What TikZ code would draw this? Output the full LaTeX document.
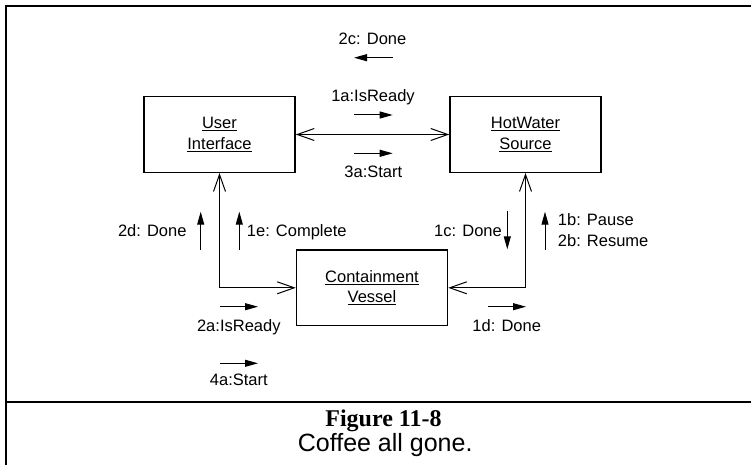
\documentclass[tikz,border=0pt]{standalone}
\usepackage{fontspec}
\setmainfont{Liberation Sans}
\newfontfamily\captionserif{Liberation Serif}
\usepackage{tikz}
\usetikzlibrary{arrows.meta, positioning}

\begin{document}
\begin{tikzpicture}[
    x=1pt, y=-1pt,
    every node/.style={font=\fontsize{16.5}{20.5}\selectfont, inner sep=0pt},
    object/.style={
        rectangle,
        draw=black,
        line width=1.5pt,
        align=center,
        minimum width=151pt,
        minimum height=75.5pt
    },
    link/.style={
        {Straight Barb[length=17pt,width=12pt]}-{Straight Barb[length=17pt,width=12pt]},
        line width=1pt
    },
    msg/.style={
        -{Triangle[length=13pt,width=7pt]},
        line width=1pt
    },
    msgtext/.style={anchor=base}
]
\useasboundingbox (0,0) rectangle (751,465);

% Marco de la figura
\draw[line width=2pt] (6,5.7) rectangle (770,480);
\draw[line width=2pt] (6,402.3) -- (770,402.3);

% Objetos
\node[object] (ui) at (219.5,134.5) {\underline{User}\\\underline{Interface}};

\node[object, right=153.5pt of ui] (hws) {\underline{HotWater}\\\underline{Source}};

\node[object, below right=76.3pt and 0pt of ui.south east] (cv) {\underline{Containment}\\\underline{Vessel}};

% Enlaces
\draw[link] (ui.east) -- (hws.west);
\draw[link] (ui.south) |- (cv.west);
\draw[link] (hws.south) |- (cv.east);

% Mensajes
\coordinate (m2c-a) at (392.7,57.7);
\coordinate (m2c-b) at (354,57.7);
\coordinate (m1a-a) at (354,115);
\coordinate (m1a-b) at (392.7,115);
\coordinate (m3a-a) at (354,153.3);
\coordinate (m3a-b) at (392.7,153.3);
\coordinate (m2d-a) at (200.7,250);
\coordinate (m2d-b) at (200.7,211.7);
\coordinate (m1e-a) at (239.3,250);
\coordinate (m1e-b) at (239.3,211.7);
\coordinate (m1c-a) at (507.3,210.7);
\coordinate (m1c-b) at (507.3,249.3);
\coordinate (m1b-a) at (545,250);
\coordinate (m1b-b) at (545,211.7);
\coordinate (m2a-a) at (220,306.7);
\coordinate (m2a-b) at (258,306.7);
\coordinate (m4a-a) at (220,363.3);
\coordinate (m4a-b) at (258,363.3);
\coordinate (m1d-a) at (488,306.7);
\coordinate (m1d-b) at (526,306.7);

\draw[msg] (m2c-a) -- (m2c-b);
\draw[msg] (m1a-a) -- (m1a-b);
\draw[msg] (m3a-a) -- (m3a-b);
\draw[msg] (m2d-a) -- (m2d-b);
\draw[msg] (m1e-a) -- (m1e-b);
\draw[msg] (m1c-a) -- (m1c-b);
\draw[msg] (m1b-a) -- (m1b-b);
\draw[msg] (m2a-a) -- (m2a-b);
\draw[msg] (m4a-a) -- (m4a-b);
\draw[msg] (m1d-a) -- (m1d-b);

\node[msgtext] (t2c) at (372.5,44.3) {2c: Done};
\node[msgtext] (t1a) at (373,101.7) {1a:IsReady};
\node[msgtext] (t3a) at (373.3,177.7) {3a:Start};
\node[msgtext, anchor=base east] (t2d) at (186.7,236.3) {2d: Done};
\node[msgtext, anchor=base west] (t1e) at (246.7,236.3) {1e: Complete};
\node[msgtext, anchor=base east] (t1c) at (502,236.3) {1c: Done};
\node[msgtext, anchor=base west] (t1b) at (557.7,225) {1b: Pause};
\node[msgtext, anchor=base west] (t2b) at (557.7,246) {2b: Resume};
\node[msgtext] (t2a) at (238.8,331.5) {2a:IsReady};
\node[msgtext] (t4a) at (238.8,385.5) {4a:Start};
\node[msgtext] (t1d) at (506.7,331) {1d: Done};

% Leyenda
\node[msgtext, font=\captionserif\bfseries\fontsize{24}{28}\selectfont] (fig) at (383.5,426.5) {Figure 11-8};
\node[msgtext, font=\fontsize{25}{29}\selectfont] (caption) at (385.2,451.5) {Coffee all gone.};

\end{tikzpicture}
\end{document}
